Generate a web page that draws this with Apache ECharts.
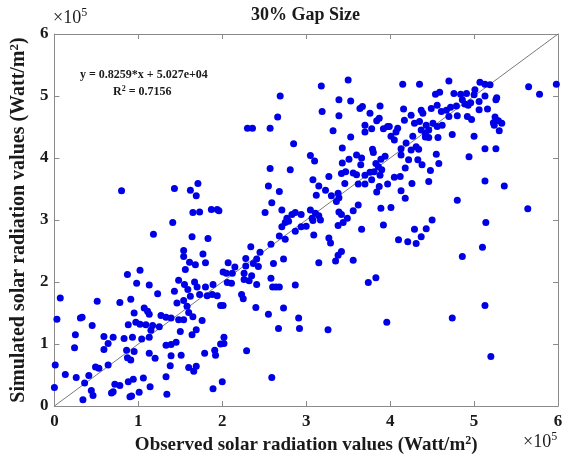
<!DOCTYPE html>
<html>
<head>
<meta charset="utf-8">
<script src="https://cdn.jsdelivr.net/npm/echarts@6/dist/echarts.min.js"></script>
<style>
    html, body { margin: 0; padding: 0; background: #fff; }
    #chart { width: 579px; height: 461px; }
</style>
</head>
<body>
<div id="chart"></div>
<script>
// values in units of 10^5 Watt/m^2, [observed, simulated]
let points = [
    [1.41,2.96],[1.18,2.77],[1.64,2.73],[1.83,2.70],[1.54,2.51],[1.54,2.41],[1.77,2.45],[1.61,2.32],[1.68,2.28],[1.80,2.31],
    [0.87,2.12],[1.02,2.19],[1.56,2.20],[0.98,1.98],[1.13,1.95],[1.48,2.03],[1.55,1.96],[1.67,2.00],[1.70,1.92],[1.59,1.88],
    [1.43,1.85],[1.23,1.81],[0.07,1.74],[0.51,1.69],[0.78,1.67],[0.91,1.72],[1.46,1.66],[1.54,1.70],[1.62,1.77],[1.73,1.80],
    [1.80,1.92],[1.82,1.78],[1.89,1.96],[1.88,1.80],[1.94,1.78],[1.98,1.62],[1.07,1.58],[1.11,1.53],[1.13,1.48],[0.95,1.50],
    [1.58,1.61],[1.60,1.51],[1.65,1.44],[0.03,1.40],[0.31,1.42],[0.33,1.43],[1.27,1.46],[1.33,1.43],[1.39,1.42],[1.48,1.39],
    [1.54,1.39],[1.76,1.38],[0.88,1.31],[0.97,1.35],[1.02,1.32],[1.09,1.31],[1.17,1.30],[1.25,1.28],[0.45,1.30],[1.15,1.22],
    [1.50,1.20],[1.69,1.23],[0.25,1.15],[0.59,1.12],[0.70,1.11],[0.83,1.09],[0.93,1.11],[1.04,1.08],[1.13,1.11],[1.64,1.15],
    [0.64,1.01],[1.33,0.98],[1.39,0.99],[1.45,1.03],[0.24,0.94],[0.59,0.91],[0.86,0.90],[0.95,0.88],[1.13,0.85],[1.91,0.90],
    [1.98,1.00],[0.87,0.78],[0.91,0.74],[1.20,0.77],[1.39,0.81],[1.51,0.82],[1.79,0.85],[1.92,0.82],[0.01,0.66],[0.64,0.66],
    [0.49,0.63],[0.53,0.61],[1.38,0.65],[1.60,0.62],[1.66,0.56],[1.69,0.64],[0.13,0.51],[0.26,0.46],[0.41,0.49],[0.36,0.37],
    [0.72,0.35],[0.78,0.33],[0.88,0.39],[0.94,0.43],[1.06,0.45],[1.33,0.47],[0.00,0.30],[0.44,0.25],[0.46,0.17],[0.68,0.21],
    [0.70,0.23],[1.14,0.31],[1.01,0.22],[0.90,0.15],[0.92,0.16],[1.34,0.19],[0.34,0.10],[1.89,0.28],[2.00,0.39],
    [0.80,3.47],[1.43,3.51],[1.62,3.48],[1.71,3.59],[1.69,3.39],[1.65,3.12],[1.73,3.13],[1.87,3.17],[1.94,3.17],[1.96,3.15],
    [2.71,2.89],[2.75,2.96],[2.79,2.98],[2.68,2.74],[2.75,2.69],[2.87,2.82],[2.94,2.89],[3.00,2.90],[3.08,2.99],[3.17,3.00],
    [3.09,2.76],[3.27,2.71],[3.29,2.63],[3.38,2.91],[3.44,2.96],[3.66,2.85],[3.92,2.92],[2.34,2.57],[2.45,2.48],[2.58,2.61],
    [2.28,2.38],[2.41,2.37],[2.73,2.37],[2.07,2.31],[2.15,2.24],[2.28,2.26],[2.37,2.30],[2.43,2.25],[2.61,2.30],[2.01,2.16],
    [2.05,2.14],[2.12,2.14],[2.26,2.14],[2.35,2.10],[2.06,1.99],[2.11,1.98],[2.26,2.04],[2.32,2.02],[2.41,1.96],[2.58,2.06],
    [2.60,1.92],[2.64,1.92],[2.68,1.92],[2.87,1.95],[3.15,2.31],[3.35,2.34],[3.42,2.49],[3.38,2.43],[3.56,2.35],[3.74,1.99],
    [3.83,2.07],[2.23,1.80],[2.25,1.73],[2.01,1.62],[2.40,1.59],[2.55,1.48],[2.73,1.58],[2.91,1.42],[2.67,1.25],[2.92,1.25],
    [3.26,1.23],[3.96,1.35],[2.02,1.11],[2.02,1.01],[2.29,0.89],[2.59,0.46],
    [3.50,5.26],[3.18,5.16],[2.69,5.00],[3.39,4.94],[3.53,4.92],[3.64,4.80],[3.67,4.83],[3.76,4.72],[3.88,4.84],[3.19,4.75],
    [3.39,4.68],[2.66,4.66],[3.84,4.60],[3.87,4.64],[3.70,4.53],[3.78,4.47],[3.70,4.42],[3.92,4.47],[3.97,4.51],[2.30,4.48],
    [2.36,4.48],[2.57,4.48],[3.32,4.44],[3.53,4.34],[2.85,4.23],[3.43,4.16],[3.79,4.14],[3.80,4.09],[3.05,4.04],[3.10,3.95],
    [3.43,3.92],[3.51,3.98],[3.60,4.05],[3.66,4.00],[3.65,3.89],[3.89,3.98],[3.94,4.03],[3.83,3.91],[3.86,3.86],[3.90,3.81],
    [2.57,3.83],[2.81,3.81],[3.42,3.75],[3.47,3.78],[3.56,3.76],[3.60,3.73],[3.70,3.72],[3.76,3.77],[3.81,3.78],[3.88,3.72],
    [3.27,3.70],[3.08,3.65],[3.15,3.55],[3.46,3.59],[3.62,3.58],[3.70,3.58],[3.78,3.65],[3.87,3.54],[2.55,3.55],[2.68,3.46],
    [3.23,3.48],[3.30,3.39],[3.38,3.43],[3.39,3.36],[3.12,3.40],[3.84,3.45],[2.59,3.28],[3.36,3.30],[3.62,3.24],[3.89,3.19],
    [2.51,3.12],[2.71,3.16],[2.83,3.09],[2.87,3.12],[2.94,3.09],[2.77,3.03],[3.05,3.16],[3.11,3.11],[3.15,3.07],[3.07,3.03],
    [3.39,3.13],[3.42,3.09],[3.49,3.03],[3.56,3.15],
    [4.50,3.00],[4.29,2.85],[4.43,2.86],[4.37,2.73],[4.10,2.68],[4.21,2.65],[4.31,2.62],[5.14,2.96],[5.10,2.56],[4.86,2.41],
    [5.13,1.62],[4.74,1.42],[5.20,0.80],
    [4.70,5.24],[4.15,5.19],[4.35,5.19],[5.07,5.22],[5.13,5.19],[5.19,5.18],[5.65,5.15],[5.78,5.03],[5.98,5.19],[4.54,5.03],
    [4.59,5.06],[4.76,5.04],[4.84,5.03],[4.91,5.04],[5.01,5.10],[5.00,5.02],[5.13,5.00],[5.27,4.97],[5.26,4.94],[4.56,4.85],
    [4.49,4.80],[4.37,4.77],[4.16,4.79],[4.25,4.69],[4.39,4.72],[4.67,4.77],[4.72,4.82],[4.79,4.84],[4.86,4.94],[4.89,4.87],
    [4.96,4.89],[4.93,4.85],[5.06,4.91],[5.06,4.78],[5.16,4.79],[4.61,4.75],[4.80,4.68],[4.70,4.67],[4.92,4.67],[4.97,4.62],
    [5.25,4.66],[5.29,4.60],[5.33,4.56],[5.23,4.57],[5.24,4.53],[4.17,4.61],[4.29,4.56],[4.35,4.59],[4.43,4.53],[4.51,4.56],
    [4.56,4.51],[4.62,4.53],[3.99,4.51],[4.09,4.48],[4.07,4.42],[4.37,4.45],[4.42,4.40],[4.46,4.45],[4.01,4.35],[4.05,4.29],
    [4.27,4.35],[4.42,4.34],[4.46,4.33],[4.57,4.33],[4.74,4.38],[5.00,4.35],[5.30,4.44],[4.19,4.24],[4.31,4.18],[4.13,4.15],
    [4.25,4.13],[4.34,4.14],[4.13,4.05],[4.22,3.97],[4.33,3.97],[4.38,3.89],[4.18,3.84],[4.48,3.80],[4.55,4.06],[4.58,3.91],
    [4.94,4.02],[5.13,4.15],[5.26,4.15],[4.05,3.69],[4.12,3.70],[3.97,3.58],[4.26,3.59],[4.46,3.62],[5.13,3.63],[5.36,3.55],
    [4.13,3.47],[4.18,3.35],[4.80,3.32],[4.01,3.20],[5.64,3.18]
];
let refLine = [[0, 0], [6, 6]];
let axisMin = 0;
let axisMax = 6;
let titleText = '30% Gap Size';
let fitText = 'y = 0.8259*x + 5.027e+04';
let r2Value = '0.7156';

let serif = 'Liberation Serif';

function supRich(size, pad) {
    return { fontFamily: serif, fontWeight: 'bold', fontSize: size, verticalAlign: 'top', padding: [0, 0, pad, 0] };
}

function boxAxis(pos, show) {
    return {
        type: 'value',
        position: pos,
        min: axisMin,
        max: axisMax,
        interval: 1,
        axisLine: { show: true, onZero: false, lineStyle: { color: '#8a8a8a', width: 1 } },
        axisTick: { show: true, inside: true, length: 5, lineStyle: { color: '#8a8a8a' } },
        axisLabel: {
            show: show,
            fontFamily: serif,
            fontWeight: 'bold',
            fontSize: 17,
            color: '#1a1a1a',
            margin: 7
        },
        splitLine: { show: false }
    };
}

let xMain = boxAxis('bottom', true);
xMain.name = 'Observed solar radiation values (Watt/m{sup|2})';
xMain.nameLocation = 'middle';
xMain.nameGap = 22;
xMain.nameTextStyle = {
    fontFamily: serif, fontWeight: 'bold', fontSize: 19, color: '#1a1a1a',
    rich: { sup: supRich(12, 9) }
};

let yMain = boxAxis('left', true);
yMain.axisLabel.margin = 6;
yMain.name = 'Simulated solar radiation values (Watt/m{sup|2})';
yMain.nameLocation = 'middle';
yMain.nameGap = 15;
yMain.nameTextStyle = {
    fontFamily: serif, fontWeight: 'bold', fontSize: 20, color: '#1a1a1a',
    rich: { sup: supRich(13, 9) }
};

function scaleText(left, top) {
    return {
        type: 'text', left: left, top: top,
        style: {
            text: '×10{s|5}', fontFamily: serif, fontSize: 18, fill: '#1a1a1a',
            rich: { s: { fontFamily: serif, fontSize: 12, fill: '#1a1a1a', verticalAlign: 'top', padding: [0, 0, 10, 0] } }
        }
    };
}

let option = {
    animation: false,
    backgroundColor: '#fff',
    grid: { left: 52, right: 21, top: 34, bottom: 55 },
    xAxis: [xMain, boxAxis('top', false)],
    yAxis: [yMain, boxAxis('right', false)],
    graphic: [
        {
            type: 'text', left: 251, top: 6,
            style: { text: titleText, fontFamily: serif, fontWeight: 'bold', fontSize: 18, fill: '#1a1a1a' }
        },
        scaleText(53, 7),
        scaleText(523, 431),
        {
            type: 'text', left: 80, top: 69,
            style: { text: fitText, fontFamily: serif, fontWeight: 'bold', fontSize: 12, fill: '#1a1a1a' }
        },
        {
            type: 'text', left: 113, top: 85,
            style: {
                text: 'R{s|2} = ' + r2Value, fontFamily: serif, fontWeight: 'bold', fontSize: 12, fill: '#1a1a1a',
                rich: { s: supRich(8, 5) }
            }
        }
    ],
    series: [
        {
            type: 'line',
            data: refLine,
            symbol: 'none',
            silent: true,
            lineStyle: { color: '#7a7a7a', width: 1 },
            z: 1
        },
        {
            type: 'scatter',
            data: points,
            symbol: 'circle',
            symbolSize: 7,
            itemStyle: { color: '#0000e6', opacity: 1 },
            z: 2
        }
    ]
};

let chart = echarts.init(document.getElementById('chart'), null, { renderer: 'canvas' });
chart.setOption(option);
</script>
</body>
</html>
